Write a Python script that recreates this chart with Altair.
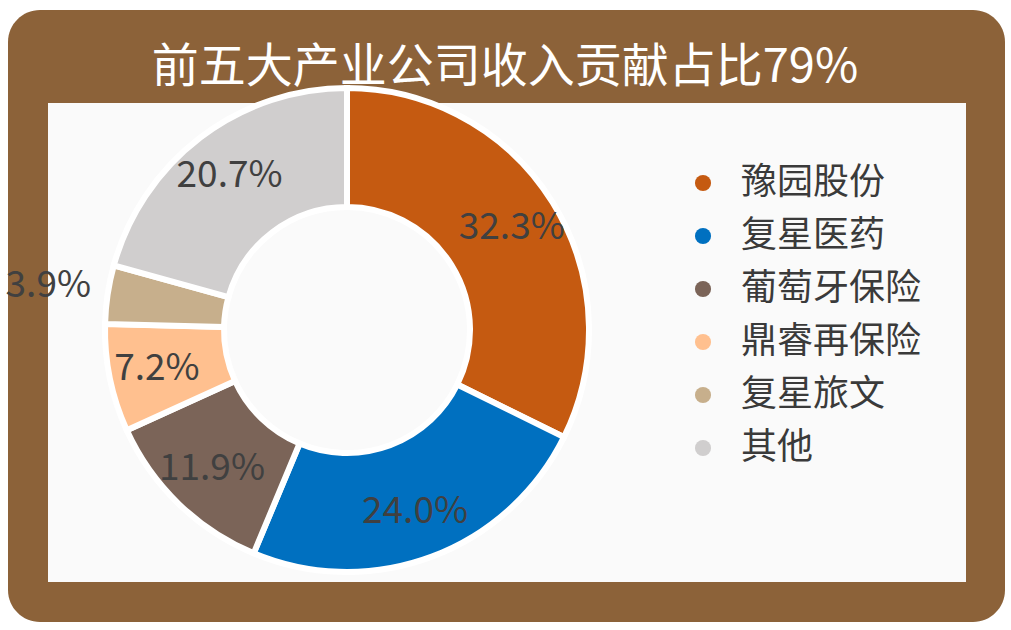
import math
import altair as alt
import pandas as pd

labels = ["豫园股份", "复星医药", "葡萄牙保险", "鼎睿再保险", "复星旅文", "其他"]
shares = [32.3, 24.0, 11.9, 7.2, 3.9, 20.7]
colors = ["#C55A11", "#0070C0", "#7B6458", "#FFC08F", "#C7AF8C", "#D0CECE"]
title_text = "前五大产业公司收入贡献占比79%"
outside_label = "复星旅文"

FONT = "Noto Sans CJK SC"
W, H = 1011, 630
CX, CY = 347, 330

df = pd.DataFrame({"label": labels, "share": shares, "order": list(range(len(labels)))})
df["text"] = [f"{v:.1f}%" for v in shares]

one = pd.DataFrame({"k": [0]})

frame = alt.Chart(one).mark_rect(color="#8C6239", cornerRadius=32).encode(
    x=alt.value(8), x2=alt.value(1005), y=alt.value(10), y2=alt.value(622)
)
panel = alt.Chart(one).mark_rect(color="#FAFAFA").encode(
    x=alt.value(48), x2=alt.value(966), y=alt.value(103), y2=alt.value(582)
)
title = alt.Chart(one).mark_text(
    text=title_text, color="white", fontSize=47, font=FONT,
    align="center", baseline="middle"
).encode(x=alt.value(505), y=alt.value(68))

ts = alt.Scale(domain=[0, 100], range=[0, 2 * math.pi])

base = alt.Chart(df).transform_window(
    cum="sum(share)", sort=[alt.SortField("order")], frame=[None, 0]
).transform_calculate(
    start="datum.cum - datum.share", mid="datum.cum - datum.share / 2"
)

color = alt.Color(
    "label:N",
    scale=alt.Scale(domain=labels, range=colors),
    sort=labels,
    legend=alt.Legend(
        orient="none", legendX=685, legendY=165, title=None,
        symbolType="circle", symbolSize=260, symbolStrokeWidth=0,
        labelFontSize=36, labelFont=FONT, labelColor="#3A3A3A",
        rowPadding=17, labelOffset=20, labelLimit=0,
    ),
)

arcs = base.mark_arc(innerRadius=123, outerRadius=242, stroke="white", strokeWidth=6).encode(
    theta=alt.Theta("start:Q", scale=ts),
    theta2="cum:Q",
    color=color,
    x=alt.value(CX), y=alt.value(CY),
)

text_in = base.transform_filter(f"datum.label != '{outside_label}'").mark_text(
    radius=194, fontSize=37, font=FONT, color="#404040", align="center", baseline="middle"
).encode(
    theta=alt.Theta("mid:Q", scale=ts), text="text:N",
    x=alt.value(CX), y=alt.value(CY),
)
text_out = base.transform_filter(f"datum.label == '{outside_label}'").mark_text(
    radius=302, fontSize=37, font=FONT, color="#404040", align="center", baseline="middle"
).encode(
    theta=alt.Theta("mid:Q", scale=ts), text="text:N",
    x=alt.value(CX), y=alt.value(CY),
)

chart = alt.layer(frame, panel, title, arcs, text_in, text_out).properties(
    width=W, height=H, padding=0, autosize=alt.AutoSizeParams(type="none"),
    background="white",
).configure_view(stroke=None)

chart.save("out.html", embed_options={"renderer": "svg", "actions": False})
